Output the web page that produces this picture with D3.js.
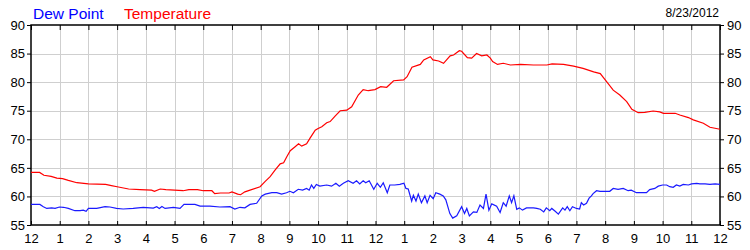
<!DOCTYPE html>
<html>
<head>
<meta charset="utf-8">
<script src="https://cdn.jsdelivr.net/npm/d3@7"></script>
<style>
  body { margin: 0; background: #fff; }
  svg { display: block; font-family: "Liberation Sans", Arial, sans-serif; }
  .axis path, .axis line { stroke: #000; }
  .axis text { fill: #000; font-size: 13px; }
  .grid line { stroke: #cfcfcf; }
</style>
</head>
<body>
<div id="chart"></div>
<script>
// hour of day (0 = midnight) and readings in degrees F
const dewHours = [0, 0.31, 0.43, 0.55, 0.72, 0.84, 0.99, 1.13, 1.3, 1.53, 1.71, 1.82, 1.92, 2.0, 2.29, 2.58, 2.75, 2.98, 3.21, 3.56, 3.91, 4.26, 4.38, 4.47, 4.56, 4.67, 4.96, 5.19, 5.33, 5.71, 5.89, 6.23, 6.58, 6.93, 7.1, 7.28, 7.45, 7.63, 7.86, 8.04, 8.16, 8.39, 8.56, 8.73, 8.9, 9.02, 9.14, 9.31, 9.46, 9.6, 9.69, 9.77, 9.85, 9.94, 10.06, 10.3, 10.47, 10.62, 10.74, 10.88, 11.05, 11.22, 11.34, 11.45, 11.57, 11.66, 11.78, 11.94, 12.06, 12.17, 12.27, 12.41, 12.5, 12.67, 12.85, 12.99, 13.06, 13.14, 13.26, 13.32, 13.41, 13.49, 13.6, 13.72, 13.8, 13.9, 14.01, 14.1, 14.24, 14.36, 14.45, 14.59, 14.69, 14.83, 15.0, 15.1, 15.18, 15.27, 15.41, 15.53, 15.64, 15.76, 15.85, 15.95, 16.05, 16.22, 16.34, 16.45, 16.55, 16.66, 16.74, 16.82, 16.92, 17.01, 17.12, 17.26, 17.5, 17.62, 17.74, 17.86, 17.95, 18.07, 18.14, 18.26, 18.37, 18.52, 18.6, 18.68, 18.77, 18.86, 19.0, 19.11, 19.17, 19.25, 19.35, 19.44, 19.52, 19.58, 19.7, 19.82, 20.0, 20.16, 20.28, 20.45, 20.63, 20.8, 20.91, 21.09, 21.32, 21.44, 21.55, 21.73, 21.85, 22.0, 22.14, 22.25, 22.37, 22.48, 22.6, 22.72, 22.9, 23.01, 23.19, 23.3, 23.48, 23.65, 23.83, 24.0];
const dewValues = [58.6, 58.6, 58.2, 57.9, 58.0, 57.9, 58.15, 58.1, 57.9, 57.5, 57.5, 57.6, 57.4, 57.9, 57.9, 58.2, 58.15, 57.9, 57.8, 57.9, 58.1, 57.95, 58.2, 57.9, 58.25, 57.9, 58.1, 57.9, 58.6, 58.6, 58.3, 58.3, 58.15, 58.2, 57.8, 58.1, 58.0, 58.6, 58.8, 60.1, 60.4, 60.65, 60.65, 60.4, 60.65, 60.9, 60.65, 61.25, 61.1, 61.4, 61.1, 62.0, 61.4, 62.1, 61.8, 62.0, 61.8, 62.3, 61.8, 62.3, 62.75, 62.3, 62.75, 62.2, 62.75, 62.4, 62.75, 61.25, 62.3, 61.6, 62.4, 60.65, 62.0, 62.0, 62.1, 62.3, 61.4, 61.3, 59.2, 60.2, 59.2, 60.4, 58.9, 60.1, 58.9, 60.2, 59.6, 60.65, 60.4, 60.1, 59.4, 57.0, 56.2, 56.6, 58.2, 57.0, 57.9, 56.6, 57.3, 57.2, 58.5, 57.9, 60.4, 57.6, 58.7, 58.3, 57.2, 58.9, 58.3, 60.1, 58.9, 60.1, 57.75, 58.0, 57.6, 58.0, 58.0, 57.9, 57.75, 57.3, 58.0, 57.5, 57.9, 57.4, 56.9, 58.0, 57.6, 58.2, 57.5, 58.2, 57.9, 57.8, 58.9, 58.5, 58.8, 59.7, 60.1, 60.5, 61.0, 60.9, 60.9, 60.9, 61.4, 61.25, 61.4, 61.0, 61.1, 60.65, 60.65, 60.65, 61.2, 61.4, 61.8, 62.0, 62.0, 61.7, 61.6, 62.0, 61.8, 62.1, 62.0, 62.2, 62.3, 62.2, 62.2, 62.1, 62.2, 62.1];

const tempHours = [0, 0.3, 0.45, 0.7, 0.9, 1.1, 1.3, 1.6, 2.0, 2.6, 2.8, 3.0, 3.4, 3.8, 4.2, 4.3, 4.5, 4.7, 5.0, 5.3, 5.5, 5.8, 6.0, 6.3, 6.4, 6.6, 6.9, 7.0, 7.2, 7.3, 7.45, 7.63, 7.98, 8.15, 8.33, 8.5, 8.68, 8.8, 8.91, 9.03, 9.2, 9.32, 9.43, 9.6, 9.72, 9.9, 10.0, 10.13, 10.3, 10.42, 10.6, 10.77, 11.0, 11.17, 11.4, 11.57, 11.75, 11.98, 12.18, 12.39, 12.63, 12.98, 13.1, 13.27, 13.56, 13.68, 13.91, 14.0, 14.2, 14.37, 14.6, 14.72, 14.92, 15.0, 15.2, 15.35, 15.52, 15.7, 15.88, 16.0, 16.08, 16.25, 16.45, 16.7, 17.05, 17.5, 17.97, 18.15, 18.55, 18.9, 19.23, 19.6, 19.83, 20.05, 20.28, 20.51, 20.75, 20.93, 21.15, 21.38, 21.67, 21.9, 22.03, 22.44, 22.6, 22.9, 23.07, 23.42, 23.65, 24];
const tempValues = [64.2, 64.2, 63.7, 63.5, 63.2, 63.1, 62.8, 62.4, 62.2, 62.1, 61.9, 61.7, 61.3, 61.2, 61.1, 60.9, 61.3, 61.2, 61.1, 61.0, 61.2, 61.2, 61.0, 61.0, 60.5, 60.6, 60.6, 60.8, 60.4, 60.3, 60.8, 61.1, 61.7, 62.6, 63.45, 64.6, 65.7, 65.9, 66.95, 68.0, 68.7, 69.2, 68.8, 69.2, 70.2, 71.6, 71.9, 72.2, 72.9, 73.1, 74.1, 75.0, 75.1, 75.7, 77.75, 78.7, 78.5, 78.7, 79.2, 79.1, 80.25, 80.4, 80.95, 82.6, 83.1, 83.9, 84.45, 83.9, 83.7, 83.3, 84.6, 84.75, 85.5, 85.4, 84.3, 84.2, 85.0, 84.6, 84.75, 84.2, 83.6, 83.1, 83.3, 83.0, 83.1, 83.0, 83.0, 83.2, 83.1, 82.8, 82.4, 81.8, 81.5, 80.1, 78.6, 77.75, 76.6, 75.25, 74.65, 74.7, 74.95, 74.8, 74.55, 74.55, 74.25, 73.8, 73.4, 72.8, 72.1, 71.75];

const yTicks = [55, 60, 65, 70, 75, 80, 85, 90];
const hourTicks = d3.range(0, 25);
const chartDate = "8/23/2012";

const width = 750, height = 250;
const margin = { top: 25, right: 30, bottom: 25, left: 31 };

const svg = d3.select("#chart").append("svg")
  .attr("width", width)
  .attr("height", height);

const x = d3.scaleLinear().domain([0, 24]).range([margin.left, width - margin.right]);
const y = d3.scaleLinear().domain([55, 90]).range([height - margin.bottom, margin.top]);

// grid
const grid = svg.append("g").attr("class", "grid");
grid.selectAll(".vx").data(hourTicks.slice(1, -1)).join("line")
  .attr("x1", d => Math.round(x(d)) + 0.5).attr("x2", d => Math.round(x(d)) + 0.5)
  .attr("y1", y(90)).attr("y2", y(55));
grid.selectAll(".hy").data(yTicks.slice(1, -1)).join("line")
  .attr("y1", d => Math.round(y(d)) + 0.5).attr("y2", d => Math.round(y(d)) + 0.5)
  .attr("x1", x(0)).attr("x2", x(24));

const hourFmt = d => String(((d + 11) % 12) + 1);

// axes
svg.append("g").attr("class", "axis")
  .attr("transform", `translate(${x(0)},0)`)
  .call(d3.axisLeft(y).tickValues(yTicks).tickSize(4).tickPadding(2))
  .call(g => g.select(".domain").remove());

svg.append("g").attr("class", "axis")
  .attr("transform", `translate(${x(24)},0)`)
  .call(d3.axisRight(y).tickValues(yTicks).tickSize(4).tickPadding(3))
  .call(g => g.select(".domain").remove());

svg.append("g").attr("class", "axis")
  .attr("transform", `translate(0,${y(90)})`)
  .call(d3.axisTop(x).tickValues(hourTicks).tickSize(-5).tickFormat(""))
  .call(g => g.select(".domain").remove());

svg.append("g").attr("class", "axis")
  .attr("transform", `translate(0,${y(55)})`)
  .call(d3.axisBottom(x).tickValues(hourTicks).tickSizeInner(-4).tickSizeOuter(0).tickPadding(9).tickFormat(hourFmt))
  .call(g => g.select(".domain").remove());

// frame
svg.append("rect")
  .attr("x", x(0)).attr("y", y(90))
  .attr("width", x(24) - x(0)).attr("height", y(55) - y(90))
  .attr("fill", "none").attr("stroke", "#000").attr("stroke-width", 1.5);

// series
const line = d3.line()
  .x(d => x(d[0]))
  .y(d => y(d[1]));

svg.append("path")
  .datum(tempHours.map((h, i) => [h, tempValues[i]]))
  .attr("fill", "none").attr("stroke", "#ff0000").attr("stroke-width", 1.2)
  .attr("d", line);

svg.append("path")
  .datum(dewHours.map((h, i) => [h, dewValues[i]]))
  .attr("fill", "none").attr("stroke", "#1a1aff").attr("stroke-width", 1.2)
  .attr("d", line);

// legend and date
svg.append("text").attr("x", 33).attr("y", 19)
  .style("font-size", "15.5px").attr("fill", "#0000ff").text("Dew Point");
svg.append("text").attr("x", 124).attr("y", 19)
  .style("font-size", "15.5px").attr("fill", "#ff0000").text("Temperature");
svg.append("text").attr("x", 719).attr("y", 17).attr("text-anchor", "end")
  .style("font-size", "12px").attr("fill", "#000").text(chartDate);
</script>
</body>
</html>
